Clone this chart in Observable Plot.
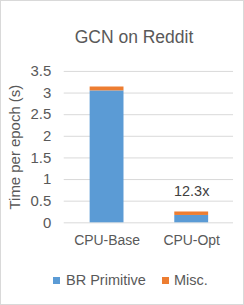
<!DOCTYPE html>
<html>
<head>
<meta charset="utf-8">
<script src="https://cdn.jsdelivr.net/npm/d3@7"></script>
<script src="https://cdn.jsdelivr.net/npm/@observablehq/plot@0.6"></script>
<style>
  html, body { margin: 0; padding: 0; background: #fff; }
  #chart { position: relative; width: 244px; height: 305px; box-sizing: border-box; border: 1px solid #d9d9d9; font-family: "Liberation Sans", Arial, sans-serif; color: #595959; overflow: hidden; }
  #title { position: absolute; left: 0; top: 26px; width: 266px; text-align: center; font-size: 17.5px; line-height: 20px; color: #595959; }
  #plot { position: absolute; left: -1px; top: 54px; }
  #legend { position: absolute; left: 0; top: 270px; width: 244px; height: 18px; font-size: 14.5px; }
  .sw { position: absolute; width: 7px; height: 7px; top: 6px; }
  .lt { position: absolute; top: 0; line-height: 18px; }
</style>
</head>
<body>
<div id="chart">
  <div id="title">GCN on Reddit</div>
  <div id="plot"></div>
  <div id="legend"></div>
</div>
<script>
const categories = ["CPU-Base", "CPU-Opt"];
const seriesNames = ["BR Primitive", "Misc."];
const brPrimitive = [3.05, 0.17];
const misc = [0.09, 0.08];
const speedupLabels = ["", "12.3x"];
const yTicks = [0, 0.5, 1, 1.5, 2, 2.5, 3, 3.5];
const colors = ["#5b9bd5", "#ed7d31"];

const rows = [];
categories.forEach((c, i) => {
  rows.push({cat: c, series: seriesNames[0], value: brPrimitive[i]});
  rows.push({cat: c, series: seriesNames[1], value: misc[i]});
});
const totals = categories.map((c, i) => ({cat: c, total: brPrimitive[i] + misc[i], label: speedupLabels[i]}));

const plot = Plot.plot({
  width: 244,
  height: 203,
  marginTop: 16,
  marginLeft: 64,
  marginRight: 10,
  marginBottom: 35,
  style: {fontFamily: '"Liberation Sans", Arial, sans-serif', fontSize: "14px", color: "#595959", background: "transparent"},
  x: {domain: categories, paddingInner: 0.6, paddingOuter: 0.3},
  y: {domain: [0, 3.5]},
  color: {domain: seriesNames, range: colors},
  marks: [
    Plot.gridY(yTicks, {stroke: "#d9d9d9", strokeOpacity: 1, strokeWidth: 1}),
    Plot.axisX({label: null, tickSize: 0, tickPadding: 12, fontSize: 14}),
    Plot.axisY(yTicks, {tickFormat: d => String(d), label: null, tickSize: 0, tickPadding: 13, fontSize: 15}),
    Plot.axisY([], {label: "Time per epoch (s)", labelAnchor: "center", labelArrow: "none", labelOffset: 55, fontSize: 15, tickSize: 0}),
    Plot.barY(rows, {x: "cat", y: "value", fill: "series", order: seriesNames}),
    Plot.text(totals, {x: "cat", y: "total", text: "label", dy: -21, fill: "#404040", fontSize: 14.5})
  ]
});
document.getElementById("plot").appendChild(plot);

const legend = document.getElementById("legend");
const legendX = [[52, 65], [161, 173]];
seriesNames.forEach((s, i) => {
  const sw = document.createElement("div");
  sw.className = "sw"; sw.style.left = legendX[i][0] + "px"; sw.style.background = colors[i];
  const t = document.createElement("div");
  t.className = "lt"; t.style.left = legendX[i][1] + "px"; t.textContent = s;
  legend.appendChild(sw); legend.appendChild(t);
});
</script>
</body>
</html>
